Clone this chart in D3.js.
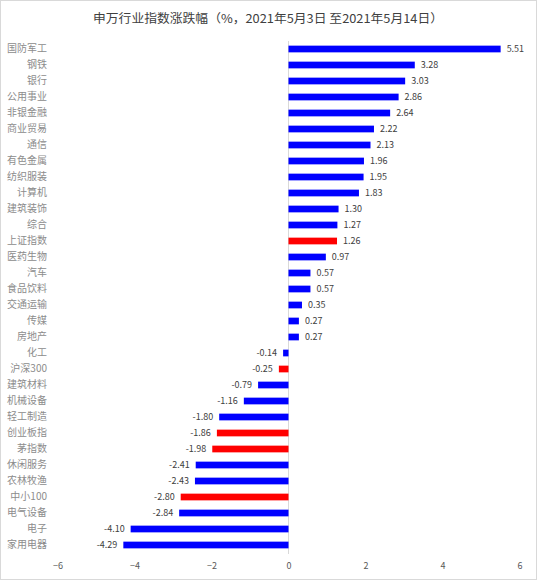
<!DOCTYPE html>
<html>
<head>
<meta charset="utf-8">
<script src="https://cdn.jsdelivr.net/npm/d3@7/dist/d3.min.js"></script>
<style>
  html, body { margin: 0; padding: 0; background: #fff; }
  svg { display: block; }
</style>
</head>
<body>
<svg id="chart" width="538" height="581"></svg>
<script>
const categories = ["国防军工","钢铁","银行","公用事业","非银金融","商业贸易","通信","有色金属","纺织服装","计算机","建筑装饰","综合","上证指数","医药生物","汽车","食品饮料","交通运输","传媒","房地产","化工","沪深300","建筑材料","机械设备","轻工制造","创业板指","茅指数","休闲服务","农林牧渔","中小100","电气设备","电子","家用电器"];
const values = [5.51,3.28,3.03,2.86,2.64,2.22,2.13,1.96,1.95,1.83,1.30,1.27,1.26,0.97,0.57,0.57,0.35,0.27,0.27,-0.14,-0.25,-0.79,-1.16,-1.80,-1.86,-1.98,-2.41,-2.43,-2.80,-2.84,-4.10,-4.29];
const indexCategories = ["上证指数","沪深300","创业板指","茅指数","中小100"];
const xTicks = [-6,-4,-2,0,2,4,6];
const title = "申万行业指数涨跌幅（%，2021年5月3日 至2021年5月14日）";

const data = categories.map((c, i) => ({ name: c, value: values[i], index: indexCategories.includes(c) }));

const svg = d3.select("#chart");
const W = 538, H = 581;
const font = "'Noto Sans CJK SC', 'Noto Sans', sans-serif";

svg.append("rect").attr("x", 0.5).attr("y", 0.5).attr("width", W - 2).attr("height", H - 2)
  .attr("fill", "#fff").attr("stroke", "#d9d9d9");

const x = d3.scaleLinear().domain([-6, 6]).range([57.5, 519.5]);
const y = d3.scaleBand().domain(categories).range([41, 553]).paddingInner(0.58).paddingOuter(0.29);

svg.append("text").attr("x", 268).attr("y", 23).attr("text-anchor", "middle")
  .attr("font-family", font).attr("font-size", 12).attr("fill", "#404040")
  .attr("textLength", 350).attr("lengthAdjust", "spacingAndGlyphs").text(title);

// zero line
svg.append("line").attr("x1", x(0)).attr("x2", x(0)).attr("y1", 41).attr("y2", 554)
  .attr("stroke", "#d9d9d9").attr("stroke-width", 1);

// bars
svg.append("g").selectAll("rect").data(data).join("rect")
  .attr("x", d => x(Math.min(0, d.value)))
  .attr("width", d => Math.abs(x(d.value) - x(0)))
  .attr("y", d => y(d.name))
  .attr("height", y.bandwidth())
  .attr("fill", d => d.index ? "#ff0000" : "#0000ff");

// value labels
svg.append("g").selectAll("text").data(data).join("text")
  .attr("x", d => d.value >= 0 ? x(d.value) + 6 : x(d.value) - 6)
  .attr("y", d => y(d.name) + y.bandwidth() / 2)
  .attr("dy", "0.35em")
  .attr("text-anchor", d => d.value >= 0 ? "start" : "end")
  .attr("font-family", font).attr("font-size", 9).attr("fill", "#404040")
  .text(d => d.value.toFixed(2));

// category axis labels
const yAxis = d3.axisLeft(y).tickSize(0).tickPadding(0);
const gy = svg.append("g").attr("transform", "translate(47,0)").call(yAxis);
gy.select(".domain").remove();
gy.selectAll("text").attr("font-family", font).attr("font-size", 10).attr("fill", "#8c8c8c");

// x axis
const xAxis = d3.axisBottom(x).tickValues(xTicks).tickSize(0).tickPadding(0).tickFormat(d3.format("d"));
const gx = svg.append("g").attr("transform", "translate(0,563)").call(xAxis);
gx.select(".domain").remove();
gx.selectAll("text").attr("font-family", font).attr("font-size", 9).attr("fill", "#595959");
</script>
</body>
</html>
